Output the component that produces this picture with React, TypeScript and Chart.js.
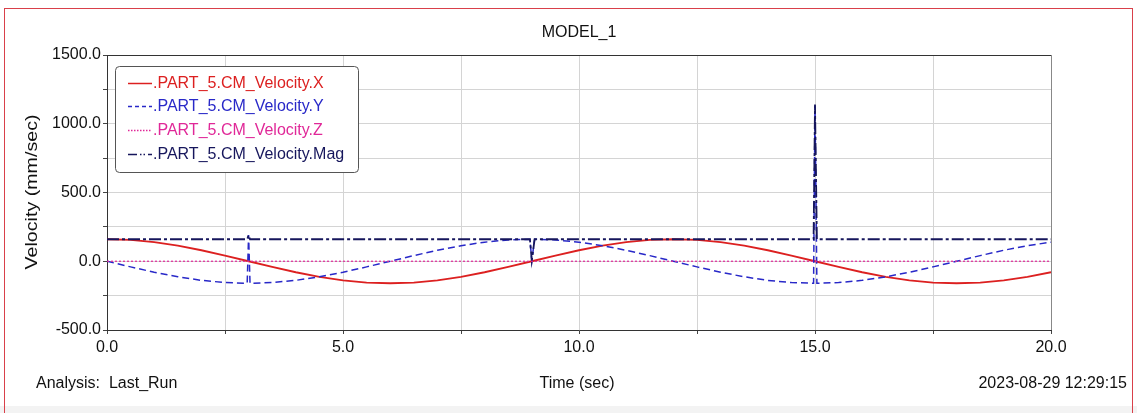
import React, { useEffect, useRef } from "react";
import { Chart, registerables } from "chart.js";

Chart.register(...registerables);

const chartTitle = "MODEL_1";
const xAxisTitle = "Time (sec)";
const yAxisTitle = "Velocity (mm/sec)";
const footerLeft = "Analysis:  Last_Run";
const footerRight = "2023-08-29 12:29:15";

const seriesNames = [
  ".PART_5.CM_Velocity.X",
  ".PART_5.CM_Velocity.Y",
  ".PART_5.CM_Velocity.Z",
  ".PART_5.CM_Velocity.Mag",
];

// X velocity
const timeX = [
  0, 0.5, 1, 1.5, 2, 2.5, 3, 3.5, 4, 4.5, 5, 5.5, 6, 6.5, 7, 7.5, 8, 8.5, 9, 9.5,
  10, 10.5, 11, 11.5, 12, 12.5, 13, 13.5, 14, 14.5, 15, 15.5, 16, 16.5, 17, 17.5, 18, 18.5, 19, 19.5, 20,
];
const velX = [
  160, 155, 139, 113, 80, 41, 0, -41, -80, -113, -139, -155, -160, -155, -139, -113, -80, -41, 0, 41,
  80, 113, 139, 155, 160, 155, 139, 113, 80, 41, 0, -41, -80, -113, -139, -155, -160, -155, -139, -113, -80,
];

// Y velocity (with the glitches at 3 s, 9 s and 15 s)
const timeY = [
  0, 0.5, 1, 1.5, 2, 2.5, 2.97, 3.0, 3.03, 3.5, 4, 4.5, 5, 5.5, 6, 6.5, 7, 7.5, 8, 8.5,
  8.96, 9.0, 9.06, 9.5, 10, 10.5, 11, 11.5, 12, 12.5, 13, 13.5, 14, 14.5, 14.97, 15.0, 15.04,
  15.5, 16, 16.5, 17, 17.5, 18, 18.5, 19, 19.5, 20,
];
const velY = [
  0, -41, -80, -113, -139, -155, -160, 190, -160, -155, -139, -113, -80, -41, 0, 41, 80, 113, 139, 155,
  160, 5, 160, 155, 139, 113, 80, 41, 0, -41, -80, -113, -139, -155, -160, 1130, -160,
  -155, -139, -113, -80, -41, 0, 41, 80, 113, 139,
];

// Z velocity
const timeZ = [0, 20];
const velZ = [0, 0];

// Magnitude
const timeMag = [0, 2.97, 3.0, 3.03, 8.96, 9.0, 9.06, 14.97, 15.0, 15.04, 20];
const velMag = [160, 160, 190, 160, 160, 5, 160, 160, 1140, 160, 160];

const colors = ["#dc2020", "#2828c8", "#e02898", "#16165c"];
const dashes: number[][] = [[], [7, 4], [2, 2], [12, 3, 3, 3]];
const widths = [1.8, 1.5, 1.2, 1.8];

const FONT = "'Liberation Sans', Arial, sans-serif";

function pts(xs: number[], ys: number[]) {
  return xs.map((x, i) => ({ x, y: ys[i] }));
}

const decorPlugin = {
  id: "decor",
  beforeDraw(chart: any) {
    const ctx = chart.ctx;
    ctx.save();
    ctx.fillStyle = "#ffffff";
    ctx.fillRect(0, 0, chart.width, chart.height);
    ctx.fillStyle = "#f3f3f3";
    ctx.fillRect(0, 406, chart.width, chart.height - 406);
    ctx.fillStyle = "#ffffff";
    ctx.fillRect(5, 9, chart.width - 10, 397);
    ctx.strokeStyle = "#d9404a";
    ctx.lineWidth = 1;
    ctx.strokeRect(4.5, 8.5, chart.width - 9, 420);
    ctx.restore();
  },
  afterDraw(chart: any) {
    const ctx = chart.ctx;
    const a = chart.chartArea;
    ctx.save();
    // frame
    ctx.lineWidth = 1;
    ctx.strokeStyle = "#333333";
    ctx.beginPath();
    ctx.moveTo(a.left, a.top + 0.5);
    ctx.lineTo(a.right, a.top + 0.5);
    ctx.stroke();
    ctx.strokeStyle = "#888888";
    ctx.beginPath();
    ctx.moveTo(a.right + 0.5, a.top);
    ctx.lineTo(a.right + 0.5, a.bottom);
    ctx.stroke();

    // texts
    ctx.fillStyle = "#111111";
    ctx.font = `16px ${FONT}`;
    ctx.textBaseline = "middle";
    ctx.textAlign = "center";
    ctx.fillText(chartTitle, (a.left + a.right) / 2, 33);
    ctx.fillText(xAxisTitle, 577, 384);
    ctx.textAlign = "left";
    ctx.fillText(footerLeft, 36, 384);
    ctx.textAlign = "right";
    ctx.fillText(footerRight, 1127, 384);
    ctx.save();
    ctx.translate(33, 192);
    ctx.rotate(-Math.PI / 2);
    ctx.font = `16px ${FONT}`;
    const tw = ctx.measureText(yAxisTitle).width;
    ctx.scale(155 / tw, 1);
    ctx.textAlign = "center";
    ctx.fillText(yAxisTitle, 0, 0);
    ctx.restore();

    // legend
    const lx = 115.5, ly = 66.5, lw = 243, lh = 106;
    ctx.beginPath();
    (ctx as any).roundRect(lx, ly, lw, lh, 4);
    ctx.fillStyle = "#ffffff";
    ctx.fill();
    ctx.strokeStyle = "#555555";
    ctx.lineWidth = 1;
    ctx.stroke();
    const rows = [83, 106, 130, 154];
    const legDash: number[][] = [[], [4, 3], [1.5, 1.5], [9, 3, 1.5, 2, 1.5, 3]];
    seriesNames.forEach((name, i) => {
      const y = rows[i];
      ctx.strokeStyle = colors[i];
      ctx.lineWidth = 1.5;
      ctx.setLineDash(legDash[i]);
      ctx.beginPath();
      ctx.moveTo(128, y + 0.5);
      ctx.lineTo(152, y + 0.5);
      ctx.stroke();
      ctx.setLineDash([]);
      ctx.fillStyle = colors[i];
      ctx.textAlign = "left";
      ctx.textBaseline = "middle";
      ctx.font = `16px ${FONT}`;
      ctx.fillText(name, 153, y + 1);
    });
    ctx.restore();
  },
};

export default function App() {
  const ref = useRef<HTMLCanvasElement | null>(null);
  useEffect(() => {
    document.body.style.margin = "0";
    if (!ref.current) return;
    const chart = new Chart(ref.current, {
      type: "line",
      data: {
        datasets: [
          { label: seriesNames[0], data: pts(timeX, velX), order: 4 },
          { label: seriesNames[1], data: pts(timeY, velY), order: 3 },
          { label: seriesNames[2], data: pts(timeZ, velZ), order: 1 },
          { label: seriesNames[3], data: pts(timeMag, velMag), order: 2 },
        ].map((d, i) => ({
          ...d,
          borderColor: colors[i],
          backgroundColor: colors[i],
          borderDash: dashes[i],
          borderWidth: widths[i],
          pointRadius: 0,
          tension: 0,
          fill: false,
        })),
      },
      options: {
        animation: false,
        responsive: false,
        devicePixelRatio: 1,
        layout: { padding: { left: 0, top: 55, right: 86, bottom: 53 } },
        plugins: {
          legend: { display: false },
          tooltip: { enabled: false },
          title: { display: false },
        },
        scales: {
          x: {
            type: "linear",
            min: 0,
            max: 20,
            afterFit: (s: any) => { s.height = 30; },
            border: { display: true, color: "#333333" },
            grid: { color: "#d4d4d4", tickColor: "#444444", tickLength: 4, drawTicks: true },
            ticks: {
              stepSize: 2.5,
              autoSkip: false,
              maxRotation: 0,
              padding: 4,
              color: "#111111",
              font: { family: FONT, size: 16 },
              callback: (v: any) => (Number(v) % 5 === 0 ? Number(v).toFixed(1) : ""),
            },
          },
          y: {
            type: "linear",
            min: -500,
            max: 1500,
            afterFit: (s: any) => { s.width = 107; },
            border: { display: true, color: "#333333" },
            grid: { color: "#d4d4d4", tickColor: "#444444", tickLength: 4, drawTicks: true },
            ticks: {
              stepSize: 250,
              autoSkip: false,
              padding: 2,
              color: "#111111",
              font: { family: FONT, size: 16 },
              callback: (v: any) => (Number(v) % 500 === 0 ? Number(v).toFixed(1) : ""),
            },
          },
        },
      },
      plugins: [decorPlugin],
    });
    return () => chart.destroy();
  }, []);
  return (
    <div style={{ width: 1137, height: 413, position: "relative" }}>
      <canvas ref={ref} width={1137} height={413} style={{ display: "block" }} />
    </div>
  );
}
